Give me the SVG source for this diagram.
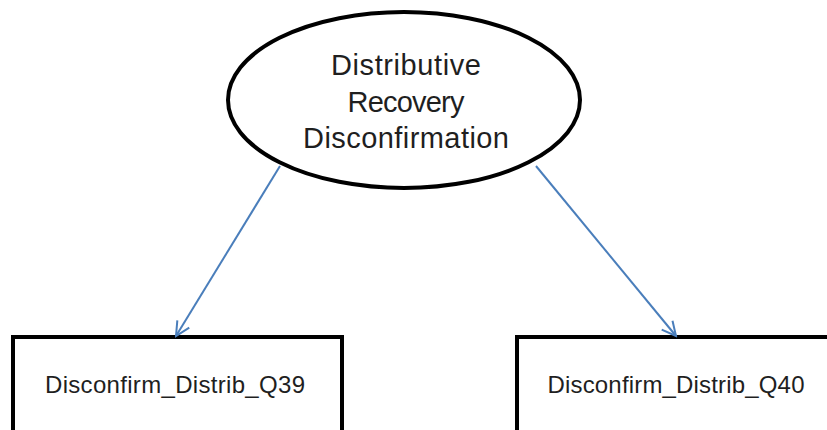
<svg xmlns="http://www.w3.org/2000/svg" width="827" height="430" viewBox="0 0 827 430">
  <style>
    .shape { fill: #ffffff; stroke: #000000; stroke-width: 4; }
    .lbl { font-family: "Liberation Sans", Arial, sans-serif; fill: #1f1f1f; text-anchor: middle; }
    .big { font-size: 29px; }
    .small { font-size: 24px; }
    .conn { stroke: #4a7ebb; stroke-width: 2; fill: none; marker-end: url(#arrow); }
  </style>
  <defs>
    <marker id="arrow" markerUnits="userSpaceOnUse" markerWidth="18" markerHeight="18" viewBox="0 0 18 18" refX="16" refY="9" orient="auto">
      <path d="M2,2 L16,9 L2,16" fill="none" stroke="#4a7ebb" stroke-width="2"/>
    </marker>
  </defs>
  <rect width="827" height="430" fill="#ffffff"/>
  <g id="latent">
    <ellipse class="shape" cx="404" cy="100" rx="176" ry="88"/>
    <text class="lbl big" x="406" y="75" textLength="150">Distributive</text>
    <text class="lbl big" x="406" y="112" textLength="117">Recovery</text>
    <text class="lbl big" x="406" y="148" textLength="206">Disconfirmation</text>
  </g>
  <g id="q39">
    <rect class="shape" x="13" y="337" width="329" height="130"/>
    <text class="lbl small" x="175" y="393" textLength="260">Disconfirm_Distrib_Q39</text>
  </g>
  <g id="q40">
    <rect class="shape" x="517" y="337" width="340" height="130"/>
    <text class="lbl small" x="676" y="393" textLength="257">Disconfirm_Distrib_Q40</text>
  </g>
  <g id="connectors">
    <line class="conn" x1="280" y1="166" x2="176" y2="336"/>
    <line class="conn" x1="536" y1="166" x2="676" y2="336"/>
  </g>
</svg>
